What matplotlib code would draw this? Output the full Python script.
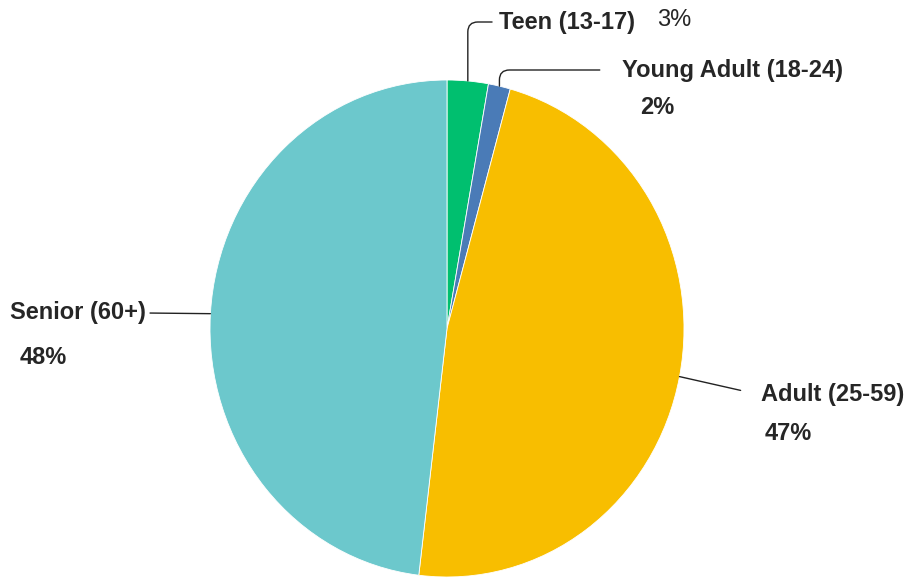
import numpy as np
import matplotlib.pyplot as plt

plt.rcParams['font.family'] = ['Liberation Sans', 'DejaVu Sans']

# ===================== DATOS =====================
groups = ["Teen (13-17)", "Young Adult (18-24)", "Adult (25-59)", "Senior (60+)"]
shares = [2.8, 1.5, 47.6, 48.1]
pct_labels = ["3%", "2%", "47%", "48%"]
colors = ["#00BF6F", "#4A7BB7", "#F8BE00", "#6CC8CC"]

# ===================== FIGURA =====================
W, H = 909, 579
fig = plt.figure(figsize=(W / 100, H / 100), dpi=100)
ax = fig.add_axes([210 / W, 2 / H, 474 / W, 497 / H])

wedges, _ = ax.pie(
    shares,
    colors=colors,
    startangle=90,
    counterclock=False,
    radius=1.0,
    wedgeprops=dict(edgecolor="white", linewidth=0.6),
)
ax.set_aspect("auto")
ax.set_xlim(-1, 1)
ax.set_ylim(-1, 1)
ax.axis("off")

txt = "#262626"
fs = 17

# posiciones de etiquetas (pixeles de figura, origen abajo-izquierda)
label_pos = [(499, 557), (622, 509), (761, 184), (10, 266)]
conn = [
    dict(relpos=(0, 0.5), connectionstyle="angle,angleA=0,angleB=90,rad=10", shrinkA=3),
    dict(relpos=(0, 0.5), connectionstyle="angle,angleA=0,angleB=90,rad=10", shrinkA=14),
    dict(relpos=(0, 0.5), connectionstyle="arc3,rad=0", shrinkA=13),
    dict(relpos=(1, 0.5), connectionstyle="arc3,rad=0", shrinkA=1),
]

for w, name, pos, c in zip(wedges, groups, label_pos, conn):
    ang = np.deg2rad((w.theta1 + w.theta2) / 2)
    xy = (np.cos(ang), np.sin(ang))
    ax.annotate(
        name,
        xy=xy,
        xycoords="data",
        xytext=pos,
        textcoords="figure pixels",
        ha="left",
        va="center",
        fontsize=fs,
        fontweight="bold",
        color=txt,
        arrowprops=dict(arrowstyle="-", color="#222222", lw=1.0, shrinkB=0,
                        relpos=c["relpos"], connectionstyle=c["connectionstyle"],
                        shrinkA=c["shrinkA"]),
    )

# porcentajes
pct_pos = [(657, 559), (640, 472), (765, 146), (20, 222)]
pct_weight = ["normal", "bold", "bold", "bold"]
for lab, pos, wt in zip(pct_labels, pct_pos, pct_weight):
    fig.text(pos[0] / W, pos[1] / H, lab, ha="left", va="center",
             fontsize=fs, fontweight=wt, color=txt)

fig.savefig("out.png", dpi=100)
